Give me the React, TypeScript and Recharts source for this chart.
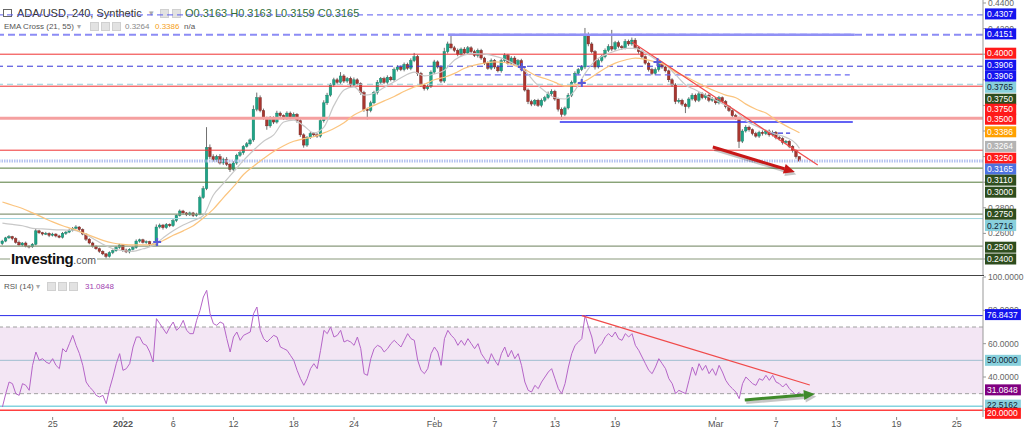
import React from "react";
import {
  ComposedChart,
  Bar,
  Line,
  XAxis,
  YAxis,
  ReferenceLine,
  ReferenceArea,
  ReferenceDot,
} from "recharts";

// x = days since 2022-01-01, 8h candles, prices in 1/10000 USD
const START_DAY = -12;
const STEP = 1 / 3;
const FIRST_OPEN = 2520;

const CLOSE = [
  2540, 2565, 2575, 2560, 2530, 2510, 2525, 2500, 2495, 2515,
  2620, 2605, 2595, 2600, 2585, 2595, 2580, 2570, 2600, 2610,
  2625, 2640, 2650, 2630, 2595, 2555, 2525, 2500, 2480, 2460,
  2440, 2420, 2450, 2465, 2490, 2510, 2470, 2455, 2475, 2490,
  2540, 2550, 2530, 2535, 2515, 2510, 2650, 2665, 2645, 2670,
  2660, 2700, 2740, 2775, 2760, 2745, 2760, 2740, 2750, 2880,
  2950, 3270, 3200, 3175, 3200, 3150, 3180, 3140, 3100, 3150,
  3210, 3230, 3280, 3300, 3330, 3570, 3660, 3560, 3500, 3440,
  3500, 3470, 3540, 3520, 3500, 3540, 3510, 3530, 3480, 3370,
  3290, 3350, 3380, 3370, 3360, 3480, 3620, 3680, 3760, 3800,
  3780, 3830, 3790, 3810, 3760, 3800, 3770, 3700, 3570, 3560,
  3620, 3700, 3780, 3810, 3780, 3820, 3800, 3880, 3900, 3880,
  3920, 3890, 3950, 3980, 3850, 3760, 3730, 3750, 3860, 3940,
  3900, 3790, 4020, 4080, 4050, 4030, 4000, 4040, 4010, 4050,
  4020, 3990, 4030, 3970, 3930, 3890, 3950, 3900, 3870, 3950,
  3990, 3930, 3970, 3920, 3950, 3880, 3720, 3630, 3610, 3640,
  3600, 3640, 3660, 3690, 3710, 3650, 3570, 3530, 3580, 3680,
  3780, 3850, 3880, 3900, 4150, 4080, 4020, 3900, 3950, 3980,
  4030, 4060, 4040, 4090, 4060, 4050, 4100, 4080, 4110, 4050,
  4020, 3980, 3930, 3880, 3850, 3880, 3930, 3900, 3870, 3800,
  3760, 3630, 3640, 3610, 3590, 3650, 3680, 3640, 3690, 3660,
  3680, 3640, 3650, 3620, 3660, 3630, 3590, 3560, 3520, 3500,
  3320, 3400, 3430, 3410, 3380, 3360, 3390, 3380, 3400, 3370,
  3390, 3350, 3340, 3310, 3320, 3280, 3250, 3200, 3165,
];

const WICK_UP = [
  10, 8, 12, 6, 9, 14, 7, 11, 8, 10,
  15, 9, 7, 12, 8, 10, 6, 9, 11, 8,
  12, 10, 14, 7, 9, 6, 8, 10, 7, 9,
  8, 6, 10, 9, 12, 8, 7, 11, 9, 10,
  13, 9, 8, 10, 7, 9, 20, 12, 9, 11,
  8, 14, 10, 12, 9, 7, 10, 8, 11, 15,
  20, 160, 25, 18, 14, 20, 12, 16, 10, 14,
  12, 15, 10, 14, 12, 30, 40, 18, 15, 12,
  16, 14, 18, 12, 10, 14, 12, 15, 10, 14,
  12, 10, 15, 12, 14, 16, 20, 18, 14, 16,
  15, 30, 14, 12, 15, 18, 12, 10, 14, 12,
  16, 14, 18, 12, 14, 15, 10, 16, 14, 12,
  15, 14, 18, 30, 14, 12, 10, 15, 14, 16,
  12, 14, 30, 18, 70, 15, 14, 12, 16, 14,
  12, 15, 14, 12, 10, 14, 16, 12, 15, 14,
  18, 12, 14, 15, 12, 14, 10, 12, 14, 10,
  12, 14, 15, 18, 16, 12, 10, 14, 12, 16,
  14, 16, 12, 15, 55, 20, 14, 12, 16, 14,
  15, 18, 130, 14, 16, 12, 18, 14, 20, 16,
  12, 14, 10, 12, 14, 16, 18, 12, 14, 10,
  12, 14, 16, 12, 10, 14, 15, 12, 14, 12,
  14, 12, 15, 12, 14, 10, 12, 10, 12, 14,
  12, 14, 16, 12, 10, 14, 12, 15, 10, 12,
  14, 10, 12, 12, 10, 8, 10, 6, 2,
];

const WICK_DOWN = [
  12, 9, 8, 14, 10, 7, 11, 9, 12, 8,
  9, 10, 12, 8, 14, 9, 11, 8, 10, 12,
  8, 10, 7, 12, 9, 14, 10, 11, 8, 12,
  10, 15, 9, 12, 8, 10, 14, 9, 11, 8,
  10, 12, 9, 11, 14, 8, 10, 12, 15, 9,
  11, 10, 12, 8, 14, 10, 9, 12, 10, 8,
  10, 12, 18, 14, 16, 12, 15, 14, 20, 12,
  14, 12, 15, 10, 12, 14, 16, 14, 12, 30,
  14, 16, 12, 15, 14, 12, 18, 14, 15, 16,
  20, 14, 12, 15, 14, 12, 14, 16, 12, 14,
  16, 12, 15, 14, 18, 12, 14, 16, 20, 70,
  14, 12, 15, 12, 14, 16, 12, 14, 15, 12,
  14, 12, 15, 12, 20, 16, 14, 12, 14, 15,
  12, 16, 14, 15, 12, 14, 16, 12, 14, 15,
  14, 12, 16, 14, 15, 12, 14, 16, 12, 14,
  15, 12, 14, 12, 16, 14, 12, 20, 16, 14,
  12, 15, 14, 12, 16, 14, 18, 44, 14, 12,
  15, 12, 14, 12, 16, 18, 14, 20, 12, 14,
  12, 14, 16, 12, 14, 16, 12, 15, 14, 12,
  16, 14, 12, 15, 14, 12, 16, 14, 12, 18,
  16, 20, 14, 16, 50, 14, 12, 15, 14, 12,
  14, 15, 12, 14, 12, 16, 14, 12, 15, 14,
  53, 14, 12, 15, 14, 12, 14, 16, 12, 14,
  12, 15, 14, 16, 12, 14, 18, 16, 4,
];

// one sample per day (every 3rd candle) and one for the last candle
const EMA21 = [
  2680, 2670, 2660, 2640, 2635, 2630, 2627, 2625, 2603, 2560,
  2515, 2480, 2465, 2460, 2480, 2505, 2565, 2620, 2665, 2700,
  2740, 2900, 2990, 3080, 3170, 3250, 3320, 3370, 3470, 3485,
  3440, 3385, 3430, 3600, 3720, 3745, 3680, 3695, 3740, 3785,
  3830, 3860, 3830, 3845, 3875, 3955, 3995, 4005, 4000, 3985,
  3960, 3920, 3870, 3780, 3710, 3660, 3650, 3720, 3850, 3950,
  3995, 4025, 4045, 4045, 4010, 3960, 3915, 3840, 3760, 3720,
  3680, 3640, 3600, 3555, 3480, 3440, 3405, 3375, 3350, 3300,
  3264,
];

const EMA55 = [
  2845, 2820, 2795, 2760, 2725, 2690, 2660, 2635, 2605, 2575,
  2545, 2525, 2515, 2510, 2510, 2515, 2545, 2585, 2620, 2660,
  2720, 2790, 2880, 2965, 3060, 3125, 3185, 3240, 3285, 3320,
  3340, 3355, 3385, 3420, 3465, 3525, 3565, 3600, 3635, 3670,
  3710, 3745, 3765, 3800, 3820, 3850, 3890, 3915, 3930, 3940,
  3935, 3910, 3880, 3835, 3810, 3780, 3750, 3760, 3790, 3840,
  3890, 3930, 3955, 3970, 3960, 3940, 3915, 3860, 3825, 3785,
  3745, 3710, 3680, 3660, 3610, 3570, 3540, 3485, 3440, 3400,
  3386,
];

const RSI14 = [
  22, 30, 37, 36, 30, 29, 36, 35, 32, 47,
  55, 50, 51, 49, 48, 51, 47, 45, 57, 55,
  60, 65, 59, 54, 47, 37, 34, 32, 29, 28,
  29, 24, 33, 40, 48, 54, 44, 45, 48, 58,
  64, 64, 60, 59, 55, 49, 75, 72, 69, 66,
  70, 73, 68, 70, 74, 68, 66, 66, 74, 80,
  88, 92, 78, 72, 71, 73, 72, 63, 55, 64,
  67, 62, 65, 66, 67, 78, 82, 68, 63, 61,
  63, 65, 64, 58, 57, 56, 53, 50, 44, 39,
  35, 39, 45, 48, 45, 56, 68, 66, 70, 64,
  65, 68, 61, 62, 61, 59, 64, 57, 42, 41,
  51, 57, 59, 58, 55, 57, 60, 62, 60, 58,
  62, 66, 63, 62, 50, 44, 42, 45, 54, 58,
  55, 47, 63, 68, 65, 63, 59, 62, 59, 63,
  60, 57, 60, 54, 51, 48, 54, 50, 47, 54,
  58, 52, 56, 51, 54, 47, 37, 32, 31, 35,
  33, 37, 40, 43, 45, 39, 33, 30, 36, 46,
  54, 59, 61, 63, 77, 70, 64, 54, 58, 60,
  64, 66, 64, 67, 63, 62, 66, 64, 66, 59,
  56, 52, 48, 44, 42, 46, 51, 48, 45, 39,
  36, 30, 32, 31, 30, 38, 46, 41, 48, 44,
  47, 42, 45, 41, 47, 43, 38, 35, 33, 31,
  27, 36, 40, 38, 36, 35, 39, 38, 41, 38,
  41, 37, 36, 34, 36, 33, 31, 29, 31.0848,
];

const TICK_DAYS = [-7, 0, 5, 11, 17, 23, 31, 37, 43, 49, 59, 65, 71, 77, 83];
const TICK_LABELS = ["25", "2022", "6", "12", "18", "24", "Feb", "7", "13", "19", "Mar", "7", "13", "19", "25"];

const PRICE_TICKS = [0.24, 0.26, 0.28, 0.3, 0.32, 0.34, 0.36, 0.38, 0.4, 0.42, 0.44];
const RSI_TICKS = [20, 40, 60, 80, 100];

const LEVELS = [0.4307, 0.4151, 0.4, 0.3906, 0.3765, 0.375, 0.35, 0.325, 0.3165, 0.311, 0.3, 0.275, 0.2716, 0.25, 0.24];
const SEGMENTS = [
  { from: 32.34, to: 72.84, price: 0.4151 },
  { from: 33.03, to: 72.34, price: 0.3838 },
  { from: 43.48, to: 72.64, price: 0.347 },
  { from: 64.4, to: 66.4, price: 0.3384 },
];
const TREND = [{ x: 50.65, y: 0.4095 }, { x: 69.15, y: 0.3134 }];
const PRICE_ARROW = [{ x: 58.71, y: 0.3275 }, { x: 66.87, y: 0.308 }];
const CROSSES = [
  { x: 3.4, y: 0.2533 },
  { x: 39.7, y: 0.39 },
  { x: 45.67, y: 0.3775 },
  { x: 53.2, y: 0.3939 },
];
const PRICE_TAGS = [0.4307, 0.4151, 0.4, 0.3906, 0.3906, 0.3765, 0.375, 0.375, 0.35, 0.3386, 0.3264, 0.325, 0.3165, 0.311, 0.3, 0.275, 0.2716, 0.25, 0.24];

const RSI_LEVELS = [76.8437, 70, 50, 30, 22.5162, 20];
const RSI_TREND = [{ x: 45.67, y: 76.84 }, { x: 68.36, y: 35.2 }];
const RSI_ARROW = [{ x: 61.89, y: 26.2 }, { x: 68.86, y: 29.8 }];
const RSI_TAGS = [76.8437, 50, 31.0848, 22.5162, 20];

// ---- styles ----
const X_DOMAIN: [number, number] = [-12.24, 85.6];
const FONT = "'Liberation Sans', Arial, sans-serif";
const BLUE = "#1414ee";
const RED = "#ff1a1a";
const DKGREEN = "#2e4d1e";
const CYAN = "#88d0dc";

const LEVEL_STYLE = [
  { stroke: "#5b5bf0", w: 1, dash: "6 4" },
  { stroke: "#8c8cf5", w: 2, dash: "7 4" },
  { stroke: "#f03030", w: 1 },
  { stroke: "#3434d8", w: 1, dash: "6 4" },
  { stroke: "#8fd0da", w: 1, dash: "6 4" },
  { stroke: "#f03030", w: 1 },
  { stroke: "#f5a0a0", w: 3 },
  { stroke: "#f03030", w: 1 },
  { stroke: "#b4c2f0", w: 3, dash: "1.5 1" },
  { stroke: "#557a3a", w: 1 },
  { stroke: "#557a3a", w: 1 },
  { stroke: "#8a9a7c", w: 1.2 },
  { stroke: "#9fd6df", w: 1 },
  { stroke: "#8a9a7c", w: 1.2 },
  { stroke: "#8a9a7c", w: 1.2 },
];
const SEGMENT_STYLE = [
  { stroke: "#9090f5", w: 2.5 },
  { stroke: "#6a6af2", w: 1.2, dash: "6 4" },
  { stroke: "#2f2ff0", w: 1.5 },
  { stroke: "#3434d8", w: 1.2, dash: "5 3" },
];
const PRICE_TAG_STYLE = [
  { bg: BLUE, fg: "#fff", shift: -1 },
  { bg: BLUE, fg: "#fff", shift: -1 },
  { bg: RED, fg: "#fff", shift: -1 },
  { bg: BLUE, fg: "#fff", shift: -1 },
  { bg: BLUE, fg: "#fff", shift: 10 },
  { bg: CYAN, fg: "#123", shift: 3 },
  { bg: DKGREEN, fg: "#fff", shift: 13 },
  { bg: RED, fg: "#fff", shift: 23 },
  { bg: RED, fg: "#fff", shift: 1 },
  { bg: "#ffa000", fg: "#fff", shift: -1 },
  { bg: "#b4b4b4", fg: "#fff", shift: -2 },
  { bg: RED, fg: "#fff", shift: 8 },
  { bg: "#4d72e0", fg: "#fff", shift: 8 },
  { bg: DKGREEN, fg: "#fff", shift: 12 },
  { bg: DKGREEN, fg: "#fff", shift: 10 },
  { bg: DKGREEN, fg: "#fff", shift: 0 },
  { bg: CYAN, fg: "#123", shift: 7 },
  { bg: DKGREEN, fg: "#fff", shift: 1 },
  { bg: DKGREEN, fg: "#fff", shift: 0 },
];
const RSI_LEVEL_STYLE = [
  { stroke: "#2a2ae8", w: 1 },
  { stroke: "#a0a0a0", w: 1, dash: "4 3" },
  { stroke: "#9fbfd0", w: 1 },
  { stroke: "#a0a0a0", w: 1, dash: "4 3" },
  { stroke: "#84d3df", w: 1.5 },
  { stroke: "#ff4040", w: 1.5 },
];
const RSI_TAG_STYLE = [
  { bg: BLUE, fg: "#fff", shift: -1 },
  { bg: CYAN, fg: "#123", shift: 0 },
  { bg: "#800080", fg: "#fff", shift: -2 },
  { bg: CYAN, fg: "#123", shift: -1 },
  { bg: RED, fg: "#fff", shift: 3 },
];

// ---- data rows ----
const candles = CLOSE.map((c, i) => {
  const o = i === 0 ? FIRST_OPEN : CLOSE[i - 1];
  const hi = Math.max(o, c) + WICK_UP[i];
  const lo = Math.min(o, c) - WICK_DOWN[i];
  return {
    x: START_DAY + i * STEP,
    o: o / 1e4,
    c: c / 1e4,
    h: hi / 1e4,
    l: lo / 1e4,
    range: [lo / 1e4, hi / 1e4],
  };
});

const emaRows = EMA21.map((v, k) => {
  const i = k === EMA21.length - 1 ? CLOSE.length - 1 : k * 3;
  return { x: START_DAY + i * STEP, e21: v / 1e4, e55: EMA55[k] / 1e4 };
});

const rsiRows = RSI14.map((v, i) => ({ x: START_DAY + i * STEP, rsi: v }));

// ---- drawing helpers ----
function Candle(props: any) {
  const { x, y, width, height, payload } = props;
  if (!payload || !height) return null;
  const { o, c, h, l } = payload;
  const k = height / (h - l);
  const yo = y + (h - o) * k;
  const yc = y + (h - c) * k;
  const up = c >= o;
  const cx = x + width / 2;
  const top = Math.min(yo, yc);
  const bh = Math.max(Math.abs(yo - yc), 0.8);
  return (
    <g>
      <line x1={cx} x2={cx} y1={y} y2={y + height} stroke="#4a4a4a" strokeWidth={0.8} />
      <rect
        x={cx - 1.3}
        y={top}
        width={2.6}
        height={bh}
        fill={up ? "#1ea487" : "#a8362f"}
        stroke={up ? "#137a63" : "#6e2420"}
        strokeWidth={0.4}
      />
    </g>
  );
}

// right-side price tag (coloured box)
function makeTag(text: string, bg: string, fg: string, shift: number) {
  return (props: any) => {
    const vb = props.viewBox || {};
    const x0 = vb.x + vb.width + 2;
    const yc = vb.y + shift;
    return (
      <g>
        <rect x={x0} y={yc - 5.5} width={text.length * 4.7 + 3} height={11} fill={bg} />
        <text x={x0 + 2} y={yc + 3} fontSize={8.5} fill={fg} fontFamily={FONT}>
          {text}
        </text>
      </g>
    );
  };
}

// plain grey axis value with a small tick mark
function makeTick(text: string) {
  return (props: any) => {
    const vb = props.viewBox || {};
    const x0 = vb.x + vb.width;
    return (
      <g>
        <line x1={x0} x2={x0 + 3} y1={vb.y} y2={vb.y} stroke="#999" />
        <text x={x0 + 5} y={vb.y + 3} fontSize={8.5} fill="#666" fontFamily={FONT}>
          {text}
        </text>
      </g>
    );
  };
}

function arrowShape(color: string) {
  return (p: any) => {
    const { x1, y1, x2, y2 } = p;
    const a = Math.atan2(y2 - y1, x2 - x1);
    const len = 11;
    const half = 5;
    const bx = x2 - len * Math.cos(a);
    const by = y2 - len * Math.sin(a);
    const nx = -Math.sin(a) * half;
    const ny = Math.cos(a) * half;
    const pts = `${x2},${y2} ${bx + nx},${by + ny} ${bx - nx},${by - ny}`;
    return (
      <g>
        <g transform="translate(1.5,2.5)" opacity={0.22}>
          <line x1={x1} y1={y1} x2={bx} y2={by} stroke="#000" strokeWidth={3} />
          <polygon points={pts} fill="#000" />
        </g>
        <line x1={x1} y1={y1} x2={bx} y2={by} stroke={color} strokeWidth={3} />
        <polygon points={pts} fill={color} />
      </g>
    );
  };
}

function crossShape(p: any) {
  const { cx, cy } = p;
  return (
    <g stroke="#5a5ad8" strokeWidth={2}>
      <line x1={cx - 4} x2={cx + 4} y1={cy} y2={cy} />
      <line x1={cx} x2={cx} y1={cy - 4} y2={cy + 4} />
    </g>
  );
}

function DateTick(props: any) {
  const { x, y, payload } = props;
  const idx = TICK_DAYS.indexOf(payload.value);
  const label = TICK_LABELS[idx] ?? "";
  return (
    <text
      x={x}
      y={y + 5}
      fontSize={9}
      fill="#555"
      textAnchor="middle"
      fontWeight={label === "2022" ? 700 : 400}
      fontFamily={FONT}
    >
      {label}
    </text>
  );
}

const box = (left: number, top: number) => (
  <div
    style={{
      position: "absolute",
      left,
      top,
      width: 9,
      height: 9,
      background: "#e2e2e2",
      border: "1px solid #d0d0d0",
      boxSizing: "border-box",
    }}
  />
);

const abs = (left: number, top: number, size: number, color: string) => ({
  position: "absolute" as const,
  left,
  top,
  fontSize: size,
  color,
  whiteSpace: "nowrap" as const,
  lineHeight: 1,
});

export default function App() {
  return (
    <div style={{ position: "relative", width: 1024, height: 431, background: "#fff", fontFamily: FONT, overflow: "hidden" }}>
      <style>{"body{margin:0} .recharts-surface{overflow:visible}"}</style>

      {/* header texts (lines are drawn over them) */}
      <div style={{ position: "absolute", left: 3, top: 9, width: 9, height: 8, border: "1px solid #666", boxSizing: "border-box" }} />
      <div style={abs(17, 8, 11, "#333")}>ADA/USD, 240, Synthetic</div>
      <div style={abs(149, 9, 9, "#aaa")}>▾</div>
      {box(160, 9)}
      {box(172, 9)}
      <div style={abs(185, 8, 11, "#2f6e3a")}>O0.3163 H0.3163 L0.3159 C0.3165</div>

      <div style={abs(4, 23, 8, "#555")}>EMA Cross (21, 55)</div>
      <div style={abs(77, 23, 8, "#aaa")}>▾</div>
      {box(90, 22)}
      {box(101, 22)}
      {box(112, 22)}
      <div style={abs(125, 23, 8, "#888")}>0.3264</div>
      <div style={abs(155, 23, 8, "#f5a020")}>0.3386</div>
      <div style={abs(184, 23, 8, "#555")}>n/a</div>

      <div style={abs(4, 283, 8, "#555")}>RSI (14)</div>
      <div style={abs(36, 283, 8, "#aaa")}>▾</div>
      {box(47, 282)}
      {box(58, 282)}
      {box(69, 282)}
      <div style={abs(85, 283, 8, "#a040b0")}>31.0848</div>

      {/* price panel */}
      <div style={{ position: "absolute", left: 0, top: 0 }}>
        <ComposedChart width={1024} height={275} data={candles} margin={{ top: 0, right: 0, bottom: 0, left: 0 }}>
          <XAxis type="number" dataKey="x" domain={X_DOMAIN} allowDataOverflow hide />
          <YAxis
            orientation="right"
            type="number"
            domain={[0.2275, 0.442344]}
            allowDataOverflow
            width={41}
            tick={false}
            tickLine={false}
            axisLine={{ stroke: "#999" }}
          />
          {LEVELS.map((v, i) => (
            <ReferenceLine
              key={"lv" + i}
              y={v}
              stroke={LEVEL_STYLE[i].stroke}
              strokeWidth={LEVEL_STYLE[i].w}
              strokeDasharray={LEVEL_STYLE[i].dash}
            />
          ))}
          {SEGMENTS.map((s, i) => (
            <ReferenceLine
              key={"sg" + i}
              segment={[{ x: s.from, y: s.price }, { x: s.to, y: s.price }]}
              stroke={SEGMENT_STYLE[i].stroke}
              strokeWidth={SEGMENT_STYLE[i].w}
              strokeDasharray={SEGMENT_STYLE[i].dash}
            />
          ))}
          <Line data={emaRows} type="monotone" dataKey="e21" stroke="#c8c8c8" strokeWidth={1.2} dot={false} activeDot={false} isAnimationActive={false} />
          <Line data={emaRows} type="monotone" dataKey="e55" stroke="#fbc47e" strokeWidth={1.2} dot={false} activeDot={false} isAnimationActive={false} />
          <Bar dataKey="range" barSize={3} shape={Candle} isAnimationActive={false} />
          <ReferenceLine segment={TREND} stroke="#f04a4a" strokeWidth={1.2} />
          <ReferenceLine segment={PRICE_ARROW} stroke="#c81818" shape={arrowShape("#c81818")} />
          {CROSSES.map((c, i) => (
            <ReferenceDot key={"cr" + i} x={c.x} y={c.y} r={4} shape={crossShape} />
          ))}
          {PRICE_TICKS.map((v, i) => (
            <ReferenceLine key={"pt" + i} y={v} stroke="none" label={makeTick(v.toFixed(4))} />
          ))}
          {PRICE_TAGS.map((v, i) => (
            <ReferenceLine
              key={"tg" + i}
              y={v}
              stroke="none"
              label={makeTag(v.toFixed(4), PRICE_TAG_STYLE[i].bg, PRICE_TAG_STYLE[i].fg, PRICE_TAG_STYLE[i].shift)}
            />
          ))}
        </ComposedChart>
      </div>

      {/* panel separator */}
      <div style={{ position: "absolute", left: 0, top: 275, width: 984, height: 1, background: "#444" }} />

      {/* RSI panel */}
      <div style={{ position: "absolute", left: 0, top: 275 }}>
        <ComposedChart width={1024} height={156} data={rsiRows} margin={{ top: 2, right: 0, bottom: 0, left: 0 }}>
          <XAxis
            type="number"
            dataKey="x"
            domain={X_DOMAIN}
            allowDataOverflow
            ticks={TICK_DAYS}
            interval={0}
            height={14}
            tickSize={3}
            tick={<DateTick />}
            axisLine={false}
            tickLine={{ stroke: "#888" }}
          />
          <YAxis
            orientation="right"
            type="number"
            domain={[16, 100]}
            allowDataOverflow
            width={41}
            tick={false}
            tickLine={false}
            axisLine={{ stroke: "#999" }}
          />
          <ReferenceArea y1={30} y2={70} fill="#f3e6f4" fillOpacity={1} stroke="none" />
          {RSI_LEVELS.map((v, i) => (
            <ReferenceLine
              key={"rl" + i}
              y={v}
              stroke={RSI_LEVEL_STYLE[i].stroke}
              strokeWidth={RSI_LEVEL_STYLE[i].w}
              strokeDasharray={RSI_LEVEL_STYLE[i].dash}
            />
          ))}
          <Line type="linear" dataKey="rsi" stroke="#b565c8" strokeWidth={1} dot={false} activeDot={false} isAnimationActive={false} />
          <ReferenceLine segment={RSI_TREND} stroke="#f04a4a" strokeWidth={1.2} />
          <ReferenceLine segment={RSI_ARROW} stroke="#3f8a2a" shape={arrowShape("#3f8a2a")} />
          {RSI_TICKS.map((v, i) => (
            <ReferenceLine key={"rk" + i} y={v} stroke="none" label={makeTick(v.toFixed(4))} />
          ))}
          {RSI_TAGS.map((v, i) => (
            <ReferenceLine
              key={"rt" + i}
              y={v}
              stroke="none"
              label={makeTag(v.toFixed(4), RSI_TAG_STYLE[i].bg, RSI_TAG_STYLE[i].fg, RSI_TAG_STYLE[i].shift)}
            />
          ))}
        </ComposedChart>
      </div>

      {/* watermark */}
      <div style={{ position: "absolute", left: 10, top: 251, background: "#fff", padding: "0 1px", lineHeight: 1 }}>
        <span style={{ fontWeight: 700, fontSize: 15, color: "#111", letterSpacing: -0.4 }}>Investing</span>
        <span style={{ fontSize: 10.5, color: "#555" }}>.com</span>
      </div>
    </div>
  );
}
